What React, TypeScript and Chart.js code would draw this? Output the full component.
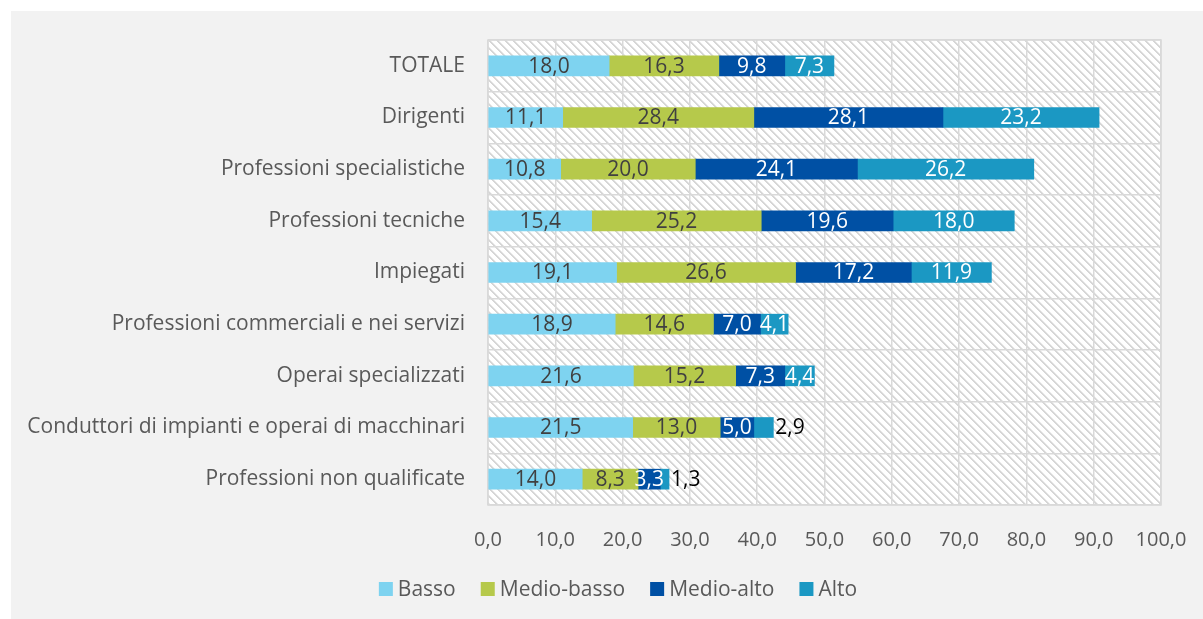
import React, { useEffect, useRef } from 'react';
import { Chart, registerables } from 'chart.js';
Chart.register(...registerables);

const categories = [
  'TOTALE',
  'Dirigenti',
  'Professioni specialistiche',
  'Professioni tecniche',
  'Impiegati',
  'Professioni commerciali e nei servizi',
  'Operai specializzati',
  'Conduttori di impianti e operai di macchinari',
  'Professioni non qualificate',
];
const basso = [18.0, 11.1, 10.8, 15.4, 19.1, 18.9, 21.6, 21.5, 14.0];
const medioBasso = [16.3, 28.4, 20.0, 25.2, 26.6, 14.6, 15.2, 13.0, 8.3];
const medioAlto = [9.8, 28.1, 24.1, 19.6, 17.2, 7.0, 7.3, 5.0, 3.3];
const alto = [7.3, 23.2, 26.2, 18.0, 11.9, 4.1, 4.4, 2.9, 1.3];
const seriesNames = ['Basso', 'Medio-basso', 'Medio-alto', 'Alto'];
const seriesColors = ['#7ed3f0', '#b6c94b', '#0050a4', '#1b98c3'];
const labelColors = ['#404040', '#404040', '#ffffff', '#ffffff'];
const xMin = 0;
const xMax = 100;
const xStep = 10;

const FONT = "'Open Sans', sans-serif";
const fmt = (v: number) => v.toFixed(1).replace('.', ',');

function makeHatch(ctx: CanvasRenderingContext2D) {
  const c = document.createElement('canvas');
  c.width = 8;
  c.height = 8;
  const g = c.getContext('2d')!;
  const img = g.createImageData(8, 8);
  for (let y = 0; y < 8; y++) {
    for (let x = 0; x < 8; x++) {
      const d = (((x - y) % 8) + 8) % 8;
      const i = (y * 8 + x) * 4;
      const v = d < 2 ? 214 : d === 2 ? 236 : 255;
      img.data[i] = v;
      img.data[i + 1] = v;
      img.data[i + 2] = v;
      img.data[i + 3] = 255;
    }
  }
  g.putImageData(img, 0, 0);
  return ctx.createPattern(c, 'repeat')!;
}

const bgPlugin = {
  id: 'bgPlugin',
  beforeDraw(chart: any) {
    const { ctx, chartArea } = chart;
    ctx.save();
    ctx.fillStyle = '#ffffff';
    ctx.fillRect(0, 0, chart.width, chart.height);
    ctx.fillStyle = '#f2f2f2';
    ctx.fillRect(11, 11, chart.width - 11, chart.height - 11);
    ctx.fillStyle = makeHatch(ctx);
    ctx.fillRect(chartArea.left, chartArea.top, chartArea.right - chartArea.left, chartArea.bottom - chartArea.top);
    ctx.restore();
  },
  beforeDatasetsDraw(chart: any) {
    const { ctx, chartArea } = chart;
    ctx.save();
    ctx.strokeStyle = '#d9d9d9';
    ctx.lineWidth = 1.5;
    ctx.strokeRect(chartArea.left, chartArea.top, chartArea.right - chartArea.left, chartArea.bottom - chartArea.top);
    ctx.restore();
  },
};

const labelPlugin = {
  id: 'labelPlugin',
  afterDatasetsDraw(chart: any) {
    const { ctx } = chart;
    ctx.save();
    ctx.font = `21px ${FONT}`;
    ctx.textBaseline = 'middle';
    chart.data.datasets.forEach((ds: any, di: number) => {
      const meta = chart.getDatasetMeta(di);
      meta.data.forEach((el: any, i: number) => {
        const v = ds.data[i] as number;
        const txt = fmt(v);
        if (v < 3) {
          ctx.fillStyle = '#000000';
          ctx.textAlign = 'left';
          ctx.fillText(txt, el.x + 2, el.y + 1);
        } else {
          ctx.fillStyle = labelColors[di];
          ctx.textAlign = 'center';
          ctx.fillText(txt, (el.x + el.base) / 2, el.y + 1);
        }
      });
    });
    ctx.restore();
  },
};

// Legend drawn from the datasets (Excel-like spacing: small box-text gap, centred under the frame)
const legendPlugin = {
  id: 'excelLegend',
  afterDraw(chart: any) {
    const { ctx } = chart;
    const box = 14;
    const gapText = 5;
    const gapItem = 25;
    const cy = 589;
    const centerX = 618;
    ctx.save();
    ctx.font = `21px ${FONT}`;
    ctx.textBaseline = 'middle';
    ctx.textAlign = 'left';
    const items = chart.data.datasets.map((ds: any) => ({
      text: ds.label as string,
      color: ds.backgroundColor as string,
      w: ctx.measureText(ds.label).width,
    }));
    const total =
      items.reduce((s: number, it: any) => s + box + gapText + it.w, 0) + gapItem * (items.length - 1);
    let x = centerX - total / 2;
    items.forEach((it: any) => {
      ctx.fillStyle = it.color;
      ctx.fillRect(x, cy - box / 2, box, box);
      ctx.fillStyle = '#595959';
      ctx.fillText(it.text, x + box + gapText, cy + 1);
      x += box + gapText + it.w + gapItem;
    });
    ctx.restore();
  },
};

export default function App() {
  const ref = useRef<HTMLCanvasElement>(null);
  useEffect(() => {
    if (!ref.current) return;
    const seriesData = [basso, medioBasso, medioAlto, alto];
    const chart = new Chart(ref.current, {
      type: 'bar',
      data: {
        labels: categories,
        datasets: seriesNames.map((name, i) => ({
          label: name,
          data: seriesData[i],
          backgroundColor: seriesColors[i],
          borderWidth: 0,
          barThickness: 20,
        })),
      },
      options: {
        indexAxis: 'y',
        animation: false,
        responsive: false,
        maintainAspectRatio: false,
        layout: { padding: { top: 40, right: 42, bottom: 62, left: 0 } },
        scales: {
          x: {
            stacked: true,
            min: xMin,
            max: xMax,
            ticks: {
              stepSize: xStep,
              callback: (v: any) => fmt(Number(v)),
              color: '#595959',
              font: { family: FONT, size: 20 },
              padding: 1,
              maxRotation: 0,
            },
            grid: { color: '#d9d9d9', lineWidth: 1.5, drawTicks: true, tickLength: 22, tickColor: 'rgba(0,0,0,0)' },
            border: { display: false },
            afterFit: (s: any) => { s.height = 52; },
          },
          y: {
            stacked: true,
            ticks: {
              color: '#595959',
              font: { family: FONT, size: 21 },
              padding: 23,
              autoSkip: false,
            },
            grid: { color: '#d9d9d9', lineWidth: 1.5, drawTicks: false, offset: true },
            border: { display: false },
            afterFit: (s: any) => { s.width = 488; },
          },
        },
        plugins: {
          legend: { display: false },
          tooltip: { enabled: false },
        },
      },
      plugins: [bgPlugin, labelPlugin, legendPlugin],
    });
    return () => chart.destroy();
  }, []);
  return (
    <canvas
      ref={ref}
      width={1203}
      height={619}
      style={{ position: 'fixed', left: 0, top: 0, width: 1203, height: 619 }}
    />
  );
}
